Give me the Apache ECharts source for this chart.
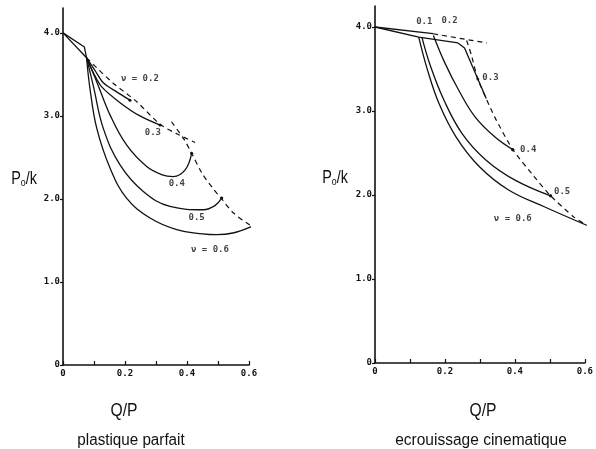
<!DOCTYPE html>
<html>
<head>
<meta charset="utf-8">
<script src="https://cdn.jsdelivr.net/npm/echarts@6/dist/echarts.min.js"></script>
<style>html,body{margin:0;padding:0;background:#fff}#c{width:596px;height:449px}</style>
</head>
<body>
<div id="c"></div>
<script>
// ---------- Data: left panel (plastique parfait) ----------
const leftElasticA = [[0,4.0],[0.069,3.83],[0.076,3.70]];
const leftElasticB = [[0,4.0],[0.076,3.70]];
const leftNu02 = [[0.076,3.70],[0.103,3.55],[0.13,3.40],[0.173,3.29],[0.216,3.19]];
const leftNu03 = [[0.076,3.70],[0.098,3.52],[0.125,3.35],[0.184,3.16],[0.248,3.00],[0.313,2.89]];
const leftNu04 = [[0.076,3.70],[0.109,3.41],[0.152,3.01],[0.205,2.65],[0.27,2.39],[0.32,2.29],[0.356,2.27],[0.394,2.35],[0.415,2.55]];
const leftNu05 = [[0.076,3.70],[0.098,3.36],[0.13,2.85],[0.184,2.41],[0.259,2.09],[0.345,1.91],[0.453,1.87],[0.49,1.92],[0.512,2.01]];
const leftNu06 = [[0.076,3.70],[0.087,3.33],[0.109,2.85],[0.152,2.37],[0.205,2.01],[0.281,1.77],[0.367,1.63],[0.45,1.58],[0.496,1.57],[0.548,1.59],[0.609,1.67]];
const leftDash1 = [[0.076,3.70],[0.16,3.40],[0.238,3.17],[0.313,2.90],[0.37,2.78],[0.426,2.68]];
const leftDash2 = [[0.35,2.93],[0.39,2.72],[0.415,2.55],[0.45,2.30],[0.485,2.12],[0.512,2.0],[0.55,1.83],[0.609,1.67]];
const leftLabelText = ['ν = 0.2','0.3','0.4','0.5','ν = 0.6'];
const leftLabelPos = [[0.248,3.45],[0.29,2.80],[0.367,2.19],[0.431,1.77],[0.474,1.39]];

// ---------- Data: right panel (ecrouissage cinematique) ----------
const rightTop = [[0,4.0],[0.166,3.92]];
const rightTopDash = [[0.166,3.92],[0.32,3.81]];
const rightLower = [[0,4.0],[0.125,3.88],[0.237,3.81]];
const rightNu03 = [[0.237,3.81],[0.256,3.75],[0.294,3.38],[0.318,3.15]];
const rightNu04 = [[0.167,3.90],[0.2,3.57],[0.239,3.25],[0.286,2.93],[0.343,2.69],[0.394,2.54]];
const rightNu05 = [[0.134,3.88],[0.159,3.53],[0.197,3.13],[0.249,2.73],[0.316,2.42],[0.399,2.18],[0.502,1.99]];
const rightNu06 = [[0.125,3.88],[0.15,3.49],[0.183,3.09],[0.232,2.69],[0.298,2.34],[0.382,2.06],[0.484,1.86],[0.605,1.64]];
const rightDash = [[0.262,3.84],[0.276,3.66],[0.294,3.38],[0.342,2.93],[0.394,2.54],[0.455,2.22],[0.502,1.99],[0.568,1.74],[0.605,1.64]];
const rightLabelText = ['0.1','0.2','0.3','0.4','0.5','ν = 0.6'];
const rightLabelPos = [[0.141,4.06],[0.213,4.07],[0.330,3.40],[0.438,2.54],[0.535,2.04],[0.394,1.72]];
const rightDots = [[0.294,3.38],[0.394,2.54],[0.502,1.99],[0.605,1.64]];

// ---------- Axis ticks ----------
const xTicks = [0,0.1,0.2,0.3,0.4,0.5,0.6];
const yTicks = [0,1,2,3,4];

const chart = echarts.init(document.getElementById('c'), null, {renderer:'canvas'});
const monoFont = {fontFamily:'DejaVu Sans Mono', fontSize:9, fontWeight:'bold', color:'#111'};

function xAxisCfg(gi){
  return {
    gridIndex: gi, type:'value', min:0, max:0.6, interval:0.1,
    axisLine:{show:true, onZero:false, lineStyle:{color:'#111', width:1.6}},
    axisTick:{show:true, inside:true, length:4, customValues:xTicks, lineStyle:{color:'#111', width:1.2}},
    axisLabel:{...monoFont, margin:4,
      formatter: v => { const k = Math.round(v*10); return k%2===0 ? (k===0?'0':(k/10).toFixed(1)) : ''; }},
    splitLine:{show:false}
  };
}
function yAxisCfg(gi, max){
  return {
    gridIndex: gi, type:'value', min:0, max:max, interval:1,
    axisLine:{show:true, onZero:false, lineStyle:{color:'#111', width:1.6}},
    axisTick:{show:true, inside:false, length:3, customValues:yTicks, lineStyle:{color:'#111', width:1.2}},
    axisLabel:{...monoFont, margin:3, customValues:yTicks,
      formatter: v => v===0 ? '0' : v.toFixed(1)},
    splitLine:{show:false}
  };
}
function solid(data, gi, smooth, dot){
  return {type:'line', xAxisIndex:gi, yAxisIndex:gi, data:data, smooth:smooth||0,
    symbol:'circle', showSymbol:true,
    symbolSize:(v,p)=> (dot && p.dataIndex===data.length-1) ? 3 : 0,
    itemStyle:{color:'#111'},
    lineStyle:{color:'#111', width:1.3}, silent:true, animation:false, z:3};
}
function dashed(data, gi, smooth){
  return {type:'line', xAxisIndex:gi, yAxisIndex:gi, data:data, smooth:smooth||0, symbol:'none',
    lineStyle:{color:'#111', width:1.2, type:[5,4]}, silent:true, animation:false, z:2};
}
function labels(texts, pos, gi){
  return {type:'scatter', xAxisIndex:gi, yAxisIndex:gi, symbolSize:1,
    itemStyle:{color:'rgba(0,0,0,0)'},
    data: texts.map((t,i)=>({name:t, value:pos[i]})),
    label:{show:true, position:'inside', formatter:p=>p.name, ...monoFont},
    silent:true, animation:false, z:5};
}
const pRich = {a:{fontFamily:'Liberation Sans', fontSize:18, fill:'#111', verticalAlign:'bottom', lineHeight:20},
               b:{fontFamily:'Liberation Sans', fontSize:11, fill:'#111', verticalAlign:'bottom', lineHeight:16}};

const option = {
  backgroundColor:'#fff',
  animation:false,
  grid:[
    {left:63, top:8, width:186, height:357},
    {left:375, top:6, width:216, height:357}
  ],
  xAxis:[xAxisCfg(0), xAxisCfg(1)],
  yAxis:[yAxisCfg(0,4.3), yAxisCfg(1,4.25)],
  series:[
    solid(leftElasticA,0), solid(leftElasticB,0),
    solid(leftNu02,0,0.3,true), solid(leftNu03,0,0.3,true), solid(leftNu04,0,0.4,true),
    solid(leftNu05,0,0.4,true), solid(leftNu06,0,0.4,true),
    dashed(leftDash1,0,0.3), dashed(leftDash2,0,0.3),
    labels(leftLabelText,leftLabelPos,0),
    solid(rightTop,1), dashed(rightTopDash,1), solid(rightLower,1),
    solid(rightNu03,1), solid(rightNu04,1,0.4,true), solid(rightNu05,1,0.4,true), solid(rightNu06,1,0.4,true),
    dashed(rightDash,1,0.2),
    {type:'scatter', xAxisIndex:1, yAxisIndex:1, symbolSize:3, itemStyle:{color:'#111'}, data:rightDots, silent:true, z:4},
    labels(rightLabelText,rightLabelPos,1)
  ],
  graphic:[
    {type:'text', x:24, y:178, scaleX:0.8,
      style:{text:'{a|P}{b|o}{a|/k}', align:'center', verticalAlign:'middle', rich:pRich}},
    {type:'text', x:335, y:177, scaleX:0.8,
      style:{text:'{a|P}{b|o}{a|/k}', align:'center', verticalAlign:'middle', rich:pRich}},
    {type:'text', x:124, y:411, scaleX:0.87,
      style:{text:'Q/P', fontFamily:'Liberation Sans', fontSize:18, fill:'#111', align:'center', verticalAlign:'middle'}},
    {type:'text', x:483, y:411, scaleX:0.87,
      style:{text:'Q/P', fontFamily:'Liberation Sans', fontSize:18, fill:'#111', align:'center', verticalAlign:'middle'}},
    {type:'text', x:131, y:441, scaleX:0.95,
      style:{text:'plastique parfait', fontFamily:'Liberation Sans', fontSize:16, fill:'#111', align:'center', verticalAlign:'middle'}},
    {type:'text', x:481, y:441, scaleX:0.97,
      style:{text:'ecrouissage cinematique', fontFamily:'Liberation Sans', fontSize:16, fill:'#111', align:'center', verticalAlign:'middle'}}
  ]
};
chart.setOption(option);
</script>
</body>
</html>
